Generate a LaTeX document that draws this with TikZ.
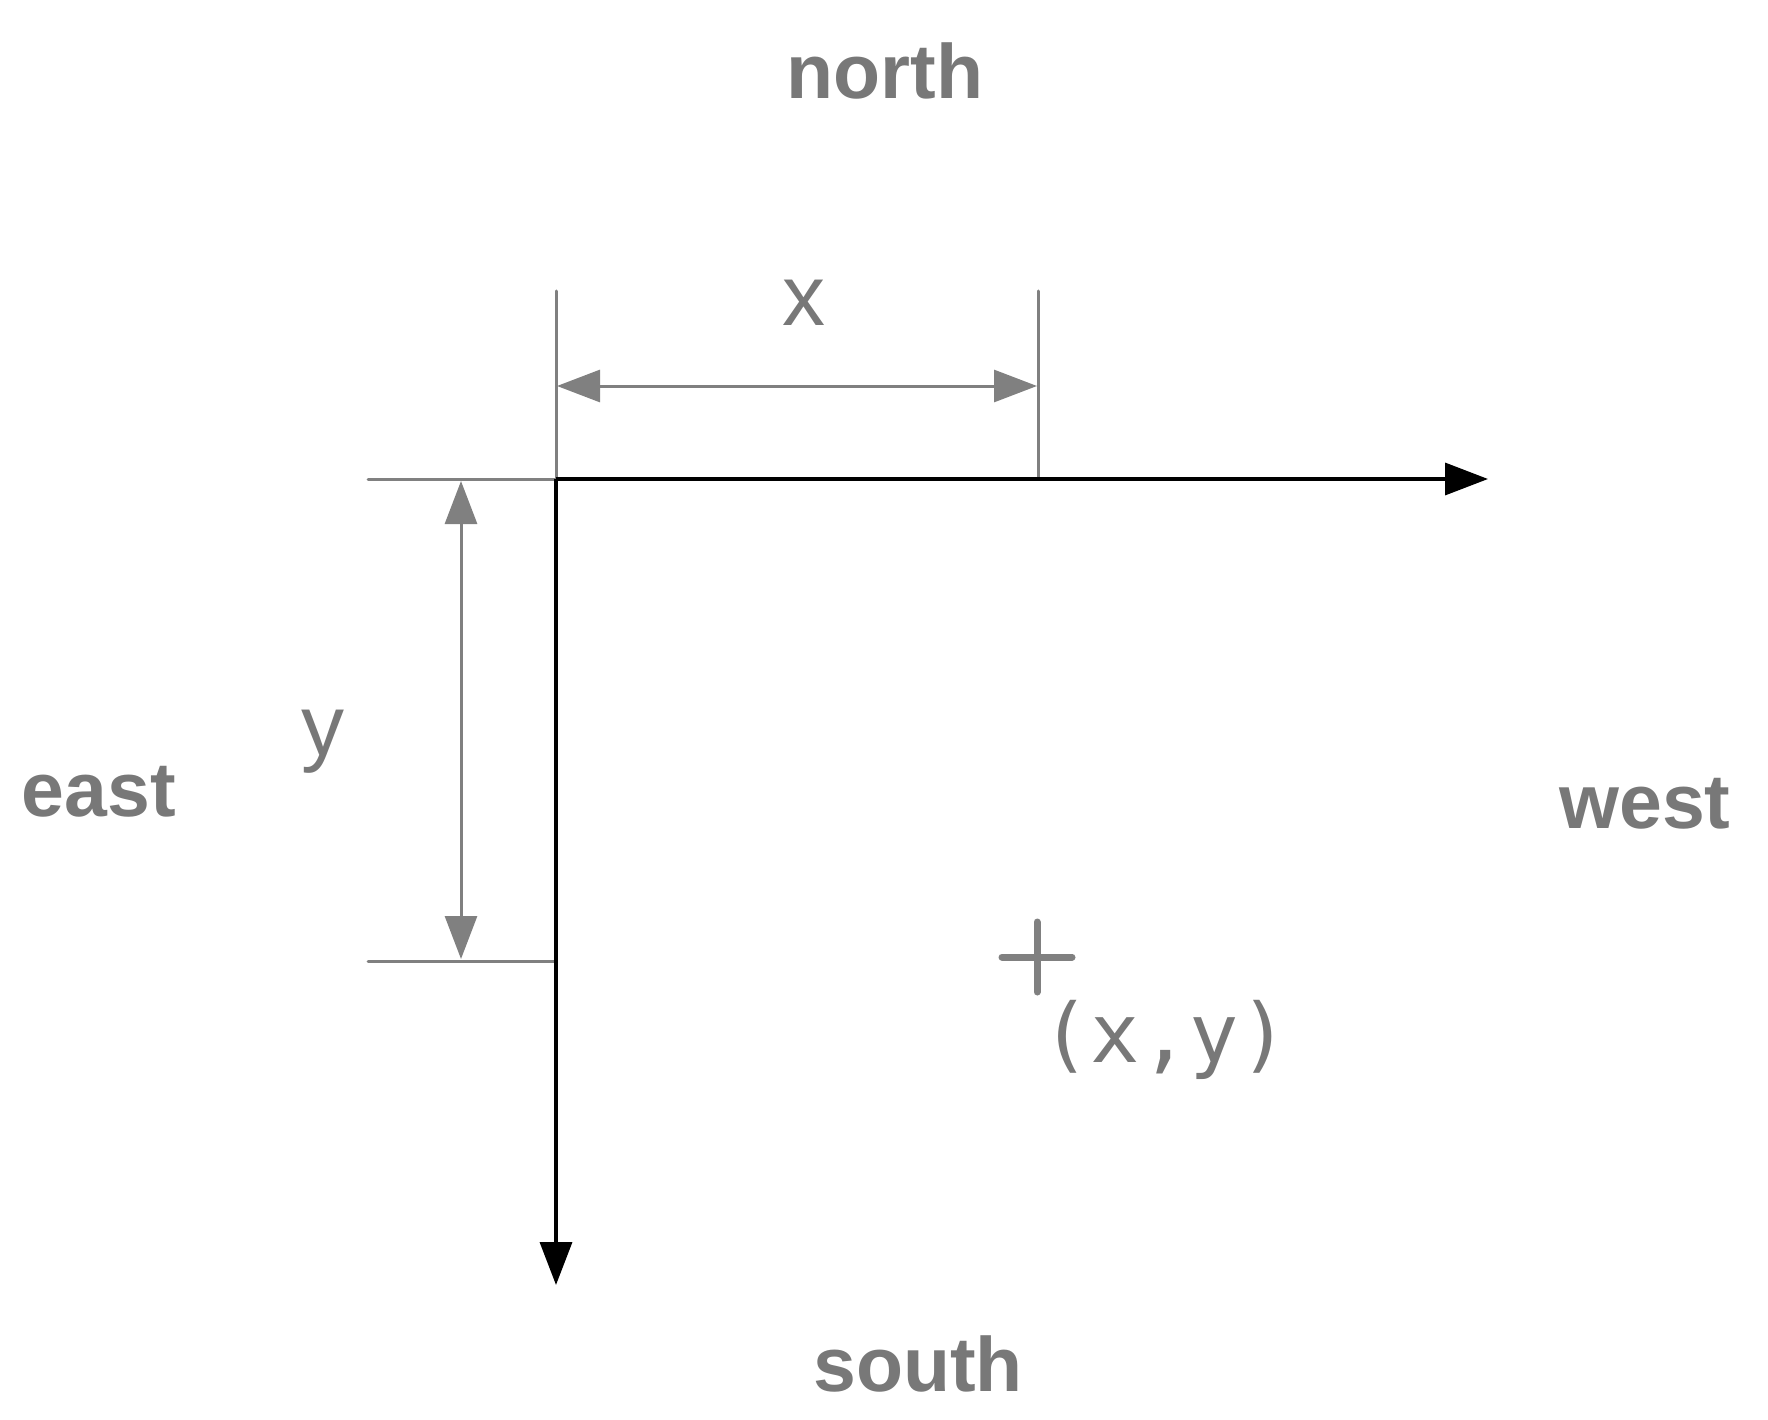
\documentclass[tikz,border=0pt]{standalone}
\usepackage{fontspec}
\setmainfont{Liberation Sans}
\newfontfamily\monofont{DejaVu Sans Mono}
\usetikzlibrary{arrows.meta}
\definecolor{lbl}{HTML}{787878}
\definecolor{gline}{HTML}{808080}
\begin{document}
\begin{tikzpicture}[x=1pt,y=-1pt,
  dir/.style={font=\fontsize{77}{80}\selectfont\bfseries, text=lbl, inner sep=0pt},
  var/.style={font=\fontsize{86}{90}\selectfont, text=lbl, inner sep=0pt},
  guide/.style={draw=gline, line width=3pt, line cap=round},
  axis/.style={draw=black, line width=3.5pt, -{Triangle[length=43pt,width=32pt]}},
  dim/.style={draw=gline, line width=3pt, {Triangle[length=43pt,width=32pt]}-{Triangle[length=43pt,width=32pt]}}]
\useasboundingbox (0,0) rectangle (1768,1420);
% key points
\coordinate (O) at (556,479);
\coordinate (XE) at (1488,479);
\coordinate (YE) at (556,1285);
\coordinate (T1) at (556,291);
\coordinate (T2) at (1038,291);
\coordinate (T2b) at (1038,479);
\coordinate (L1) at (368,479);
\coordinate (L2) at (368,961);
\coordinate (L2b) at (556,961);
\coordinate (A1) at (557,386);
\coordinate (A2) at (1037,386);
\coordinate (B1) at (461,481);
\coordinate (B2) at (461,959);
\coordinate (P) at (1037,957);
% guide lines
\draw[guide] (L1) -- (O);
\draw[guide] (T1) -- (O);
\draw[guide] (T2) -- (T2b);
\draw[guide] (L2) -- (L2b);
% axes
\draw[axis] (O) -- (XE);
\draw[axis] (O) -- (YE);
% dimension arrows
\draw[dim] (A1) -- (A2);
\draw[dim] (B1) -- (B2);
% point marker
\draw[draw=gline, line width=7pt, line cap=round] ([xshift=-35pt]P) -- ([xshift=35pt]P);
\draw[draw=gline, line width=7pt, line cap=round] ([yshift=-35pt]P) -- ([yshift=35pt]P);
% labels
\node[dir] (north) at (885,71) {north};
\node[dir] (east) at (99,792) {east};
\node[dir] (west) at (1645,804) {west};
\node[dir] (south) at (918,1364) {south};
\node[var] (xl) at (804,303) {x};
\node[var] (yl) at (323,742) {y};
\node[font=\fontsize{82}{86}\selectfont\monofont, text=lbl, inner sep=0pt] (pl) at (1165,1040) {(x,y)};
\end{tikzpicture}
\end{document}
